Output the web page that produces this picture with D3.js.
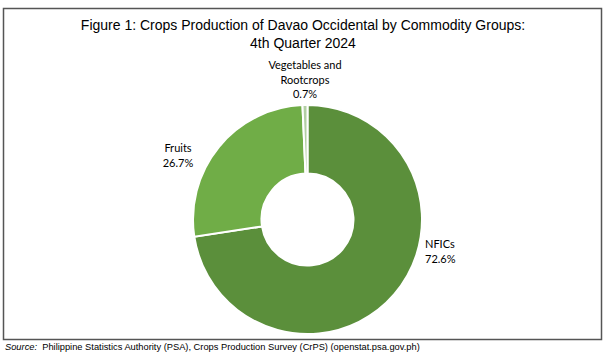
<!DOCTYPE html>
<html><head><meta charset="utf-8">
<script src="https://cdn.jsdelivr.net/npm/d3@7"></script>
<style>html,body{margin:0;padding:0;background:#fff;}svg{display:block;}</style>
</head><body>
<svg id="chart" width="607" height="354"></svg>
<script>
const categories = ["NFICs", "Fruits", "Vegetables and Rootcrops"];
const values = [72.6, 26.7, 0.7];
const labelLines = [["NFICs", "72.6%"], ["Fruits", "26.7%"], ["Vegetables and", "Rootcrops", "0.7%"]];
const colors = ["#5b8f3b", "#70ad47", "#b2cfa3"];

const svg = d3.select("#chart");
const W = 607, H = 354;

// frame
svg.append("rect").attr("x", 3.5).attr("y", 8.5).attr("width", 598).attr("height", 331)
  .attr("fill", "none").attr("stroke", "#555").attr("stroke-width", 1.5);

// title
const title = svg.append("text").attr("x", 303).attr("y", 30).attr("text-anchor", "middle")
  .attr("font-family", "Liberation Sans, Arial, sans-serif").attr("font-size", 14).attr("fill", "#000");
title.append("tspan").attr("x", 303).attr("y", 30).text("Figure 1: Crops Production of Davao Occidental by Commodity Groups:");
title.append("tspan").attr("x", 303).attr("y", 48).text("4th Quarter 2024");

const cx = 307.5, cy = 219.5, R = 114.5, r0 = 46;
const pie = d3.pie().sort(null).value(d => d)(values);
const arc = d3.arc().innerRadius(r0).outerRadius(R);
const g = svg.append("g").attr("transform", `translate(${cx},${cy})`);
g.selectAll("path").data(pie).join("path")
  .attr("d", arc).attr("fill", (d, i) => colors[i])
  .attr("stroke", "#fff").attr("stroke-width", 2);

// labels
const labelPos = [
  {x: 425, y: 248, anchor: "start"},
  {x: 178, y: 152, anchor: "middle"},
  {x: 305, y: 69, anchor: "middle"}
];
labelLines.forEach((lines, i) => {
  const p = labelPos[i];
  const t = svg.append("text").attr("text-anchor", p.anchor)
    .attr("font-family", "Lato, 'Open Sans', sans-serif").attr("font-size", 11).attr("fill", "#000");
  lines.forEach((s, j) => t.append("tspan").attr("x", p.x).attr("y", p.y + j * 14.5).text(s));
});

// source
const src = svg.append("text").attr("x", 5).attr("y", 350)
  .attr("font-family", "Liberation Sans, Arial, sans-serif").attr("font-size", 9.3).attr("fill", "#000");
src.append("tspan").attr("font-style", "italic").text("Source:");
src.append("tspan").text("\u00a0 Philippine Statistics Authority (PSA), Crops Production Survey (CrPS) (openstat.psa.gov.ph)");
</script>
</body></html>
